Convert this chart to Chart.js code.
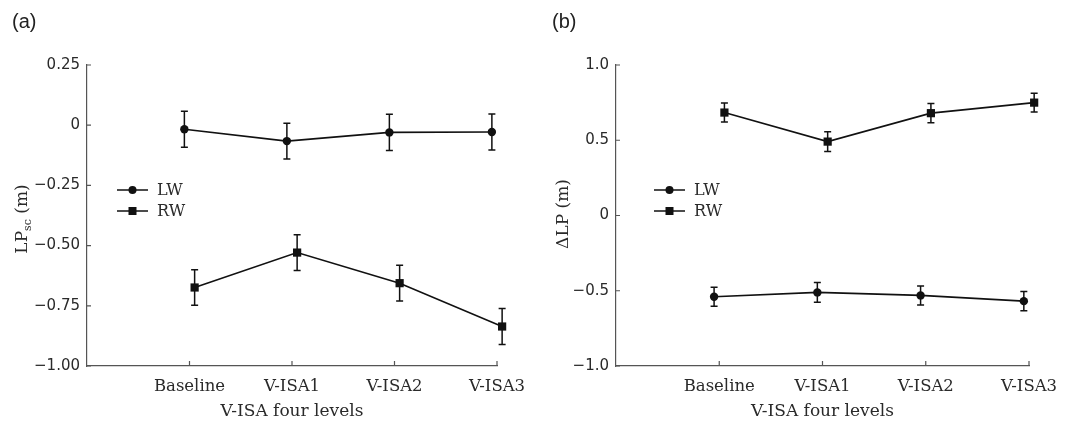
<!DOCTYPE html>
<html lang="en">
<head>
<meta charset="UTF-8">
<title>LPsc and ΔLP across V-ISA levels</title>
<style>
    body { margin: 0; background: #fff; }
    #wrap { position: relative; width: 1077px; height: 433px; }
    canvas { position: absolute; top: 0; }
    #chartA { left: 0; }
    #chartB { left: 538px; }
</style>
</head>
<body>
<div id="wrap">
    <canvas id="chartA" width="538" height="433"></canvas>
    <canvas id="chartB" width="539" height="433"></canvas>
</div>
<script src="https://cdn.jsdelivr.net/npm/chart.js@4"></script>
<script>
    // categories on the x axis (placed at 1..4 on a linear axis)
    const categories = ['Baseline', 'V-ISA1', 'V-ISA2', 'V-ISA3'];

    // panel (a): LPsc (m), mean and error half-width
    const lwLpsc = [-0.017, -0.066, -0.030, -0.028];
    const lwLpscErr = [0.075, 0.074, 0.075, 0.075];
    const rwLpsc = [-0.674, -0.529, -0.656, -0.836];
    const rwLpscErr = [0.074, 0.074, 0.074, 0.075];

    // panel (b): delta LP (m)
    const lwDeltaLp = [-0.540, -0.511, -0.531, -0.569];
    const lwDeltaLpErr = [0.063, 0.065, 0.063, 0.064];
    const rwDeltaLp = [0.684, 0.491, 0.680, 0.750];
    const rwDeltaLpErr = [0.063, 0.065, 0.064, 0.063];

    // y tick values and labels
    const lpscTicks = [0.25, 0, -0.25, -0.5, -0.75, -1.0];
    const lpscLabels = ['0.25', '0', '\u22120.25', '\u22120.50', '\u22120.75', '\u22121.00'];
    const deltaTicks = [1.0, 0.5, 0, -0.5, -1.0];
    const deltaLabels = ['1.0', '0.5', '0', '\u22120.5', '\u22121.0'];

    const dodge = 0.05; // LW drawn slightly left, RW slightly right
    const ink = '#111';
    const axisColor = '#555';
    const textColor = '#2a2a2a';
    const serif = "'DejaVu Serif', serif";
    const sans = "'DejaVu Sans', sans-serif";

    function points(values, shift) {
        return values.map((v, i) => ({ x: i + 1 + shift, y: v }));
    }

    const errorBars = {
        id: 'errorBars',
        afterDatasetsDraw(chart) {
            const ctx = chart.ctx;
            const yScale = chart.scales.y;
            chart.data.datasets.forEach((ds, di) => {
                chart.getDatasetMeta(di).data.forEach((pt, i) => {
                    const v = ds.data[i].y, e = ds.errors[i];
                    const top = yScale.getPixelForValue(v + e);
                    const bot = yScale.getPixelForValue(v - e);
                    ctx.save();
                    ctx.strokeStyle = ink;
                    ctx.lineWidth = 1.5;
                    ctx.beginPath();
                    ctx.moveTo(pt.x, top); ctx.lineTo(pt.x, bot);
                    ctx.moveTo(pt.x - 3.5, top); ctx.lineTo(pt.x + 3.5, top);
                    ctx.moveTo(pt.x - 3.5, bot); ctx.lineTo(pt.x + 3.5, bot);
                    ctx.stroke();
                    ctx.restore();
                });
            });
        }
    };

    function drawMarker(ctx, style, x, y) {
        ctx.fillStyle = ink;
        ctx.beginPath();
        if (style === 'rect') {
            ctx.rect(x - 4, y - 4, 8, 8);
        } else {
            ctx.arc(x, y, 4, 0, Math.PI * 2);
        }
        ctx.fill();
    }

    // panel label, axis titles, legend and inward tick marks
    function makeDecor(opts) {
        return {
            id: 'decor',
            afterDraw(chart) {
                const ctx = chart.ctx;
                const area = chart.chartArea;
                const xs = chart.scales.x, ys = chart.scales.y;
                ctx.save();

                // inward ticks
                ctx.strokeStyle = axisColor;
                ctx.lineWidth = 1.2;
                ctx.beginPath();
                xs.ticks.forEach(t => {
                    const px = xs.getPixelForValue(t.value);
                    ctx.moveTo(px, area.bottom); ctx.lineTo(px, area.bottom - 5);
                });
                ys.ticks.forEach(t => {
                    const py = ys.getPixelForValue(t.value);
                    ctx.moveTo(area.left, py); ctx.lineTo(area.left + 4, py);
                });
                ctx.stroke();

                // panel label
                ctx.fillStyle = '#222';
                ctx.font = "20px 'Liberation Sans', Arial, sans-serif";
                ctx.textAlign = 'left';
                ctx.textBaseline = 'middle';
                ctx.fillText(opts.panel, opts.panelX, 22);

                // x title
                ctx.fillStyle = textColor;
                ctx.font = '17px ' + serif;
                ctx.textAlign = 'center';
                ctx.fillText('V-ISA four levels', (area.left + area.right) / 2, 412);

                // y title with optional subscript
                ctx.save();
                ctx.translate(opts.yTitleX, opts.yTitleY);
                ctx.rotate(-Math.PI / 2);
                ctx.textAlign = 'left';
                ctx.textBaseline = 'alphabetic';
                let total = 0;
                opts.yTitle.forEach(p => {
                    ctx.font = p.size + 'px ' + serif;
                    total += ctx.measureText(p.text).width;
                });
                let cx = -total / 2;
                opts.yTitle.forEach(p => {
                    ctx.font = p.size + 'px ' + serif;
                    ctx.fillText(p.text, cx, 6 + p.shift);
                    cx += ctx.measureText(p.text).width;
                });
                ctx.restore();

                // legend
                ctx.font = '16px ' + serif;
                ctx.textAlign = 'left';
                ctx.textBaseline = 'middle';
                chart.data.datasets.forEach((ds, i) => {
                    const ly = opts.legendY + i * 21;
                    ctx.strokeStyle = ink;
                    ctx.lineWidth = 1.5;
                    ctx.beginPath();
                    ctx.moveTo(opts.legendX, ly); ctx.lineTo(opts.legendX + 31, ly);
                    ctx.stroke();
                    drawMarker(ctx, ds.pointStyle, opts.legendX + 15.5, ly);
                    ctx.fillStyle = textColor;
                    ctx.fillText(ds.label, opts.legendX + 40, ly + 1);
                });
                ctx.restore();
            }
        };
    }

    function makeChart(id, cfg) {
        const lineStyle = {
            borderColor: ink,
            borderWidth: 1.6,
            pointBackgroundColor: ink,
            pointBorderWidth: 0,
            fill: false,
            tension: 0,
            clip: false
        };
        return new Chart(document.getElementById(id), {
            type: 'line',
            data: {
                datasets: [
                    Object.assign({ label: 'LW', data: points(cfg.lw, -dodge), errors: cfg.lwErr,
                        pointStyle: 'circle', pointRadius: 4.2 }, lineStyle),
                    Object.assign({ label: 'RW', data: points(cfg.rw, dodge), errors: cfg.rwErr,
                        pointStyle: 'rect', pointRadius: 5.8 }, lineStyle)
                ]
            },
            options: {
                responsive: false,
                animation: false,
                layout: { padding: { left: 0, top: 65, right: cfg.padRight, bottom: 0 } },
                plugins: {
                    legend: { display: false },
                    tooltip: { enabled: false }
                },
                scales: {
                    x: {
                        type: 'linear',
                        min: 0,
                        max: 4,
                        afterBuildTicks: s => { s.ticks = categories.map((c, i) => ({ value: i + 1 })); },
                        afterFit: s => { s.height = 67; },
                        ticks: {
                            callback: v => categories[v - 1],
                            autoSkip: false,
                            maxRotation: 0,
                            padding: 11,
                            color: textColor,
                            font: { family: serif, size: 16.5 }
                        },
                        grid: { display: false, drawTicks: false },
                        border: { color: axisColor, width: 1.2 }
                    },
                    y: {
                        min: cfg.yMin,
                        max: cfg.yMax,
                        afterBuildTicks: s => { s.ticks = cfg.yTicks.map(v => ({ value: v })); },
                        afterFit: s => { s.width = cfg.yWidth; },
                        ticks: {
                            callback: v => cfg.yLabels[cfg.yTicks.indexOf(v)],
                            padding: 7,
                            color: textColor,
                            font: { family: sans, size: 15 }
                        },
                        grid: { display: false, drawTicks: false },
                        border: { color: axisColor, width: 1.2 }
                    }
                }
            },
            plugins: [errorBars, makeDecor(cfg.decor)]
        });
    }

    makeChart('chartA', {
        lw: lwLpsc, lwErr: lwLpscErr, rw: rwLpsc, rwErr: rwLpscErr,
        yMin: -1.0, yMax: 0.25, yTicks: lpscTicks, yLabels: lpscLabels,
        yWidth: 87, padRight: 41,
        decor: {
            panel: '(a)', panelX: 12,
            yTitle: [{ text: 'LP', size: 17, shift: 0 }, { text: 'sc', size: 11, shift: 4 }, { text: ' (m)', size: 17, shift: 0 }],
            yTitleX: 21, yTitleY: 219,
            legendX: 117, legendY: 190
        }
    });

    makeChart('chartB', {
        lw: lwDeltaLp, lwErr: lwDeltaLpErr, rw: rwDeltaLp, rwErr: rwDeltaLpErr,
        yMin: -1.0, yMax: 1.0, yTicks: deltaTicks, yLabels: deltaLabels,
        yWidth: 78, padRight: 48,
        decor: {
            panel: '(b)', panelX: 14,
            yTitle: [{ text: '\u0394LP (m)', size: 17, shift: 0 }],
            yTitleX: 24, yTitleY: 214,
            legendX: 116, legendY: 190
        }
    });
</script>
</body>
</html>
